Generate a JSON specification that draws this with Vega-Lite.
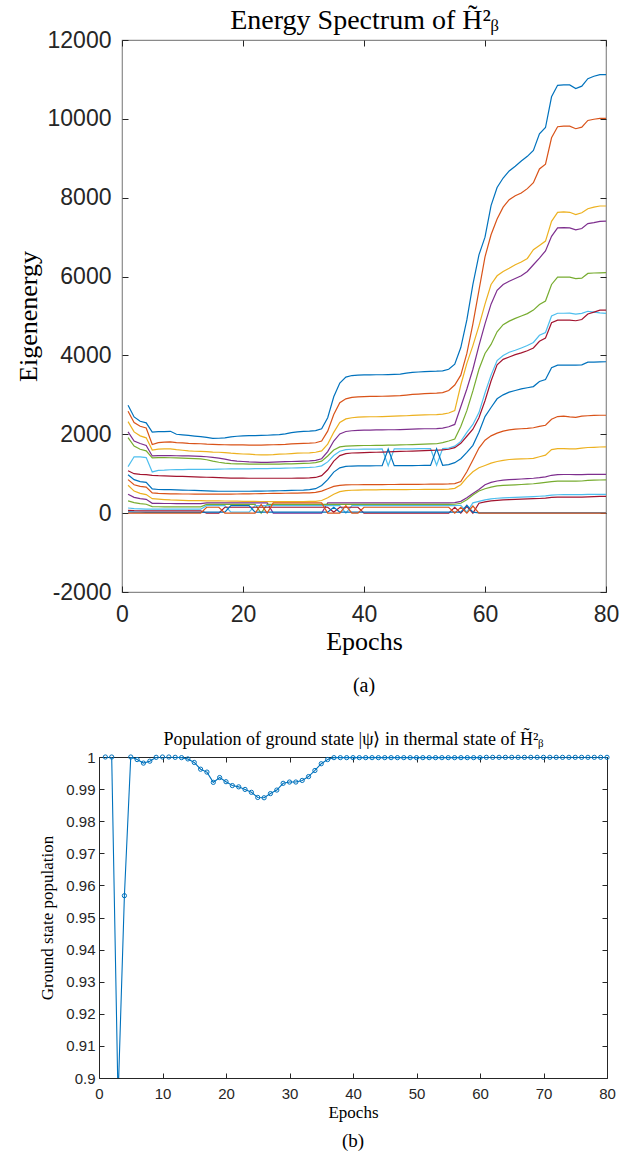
{
  "$schema": "https://vega.github.io/schema/vega-lite/v6.json",
  "background": "white",
  "padding": {"left": 13, "top": 5, "right": 0, "bottom": 0},
  "config": {
    "view": {"stroke": null},
    "title": {"font": "Liberation Serif", "fontWeight": "normal", "color": "#000000"},
    "axis": {
      "grid": false,
      "domain": false,
      "labelFont": "Liberation Sans",
      "labelColor": "#262626",
      "tickColor": "#262626",
      "tickWidth": 1,
      "titleFont": "Liberation Serif",
      "titleFontWeight": "normal",
      "titleColor": "#000000",
      "labelFlush": false,
      "labelOverlap": false
    }
  },
  "datasets": {
    "spectrum": [
      {"e":1,"s01":2737,"s02":2585,"s03":2320,"s04":2060,"s05":1915,"s06":1180,"s07":1075,"s08":975,"s09":850,"s10":707,"s11":480,"s12":310,"s13":130,"s14":70,"s15":30,"s16":0},
      {"e":2,"s01":2440,"s02":2300,"s03":2060,"s04":1830,"s05":1700,"s06":1430,"s07":1000,"s08":850,"s09":720,"s10":560,"s11":400,"s12":265,"s13":115,"s14":62,"s15":26,"s16":0},
      {"e":3,"s01":2330,"s02":2205,"s03":1960,"s04":1765,"s05":1620,"s06":1425,"s07":985,"s08":800,"s09":680,"s10":500,"s11":370,"s12":240,"s13":108,"s14":58,"s15":23,"s16":0},
      {"e":4,"s01":2290,"s02":2160,"s03":1910,"s04":1715,"s05":1580,"s06":1410,"s07":975,"s08":780,"s09":660,"s10":470,"s11":350,"s12":225,"s13":104,"s14":56,"s15":21,"s16":0},
      {"e":5,"s01":2055,"s02":1740,"s03":1600,"s04":1450,"s05":1400,"s06":1045,"s07":960,"s08":615,"s09":512,"s10":368,"s11":250,"s12":165,"s13":100,"s14":55,"s15":20,"s16":0},
      {"e":6,"s01":2065,"s02":1790,"s03":1625,"s04":1460,"s05":1410,"s06":1085,"s07":950,"s08":600,"s09":500,"s10":355,"s11":246,"s12":162,"s13":100,"s14":55,"s15":20,"s16":0},
      {"e":7,"s01":2070,"s02":1800,"s03":1630,"s04":1460,"s05":1410,"s06":1090,"s07":945,"s08":598,"s09":495,"s10":345,"s11":245,"s12":161,"s13":100,"s14":55,"s15":20,"s16":0},
      {"e":8,"s01":2075,"s02":1805,"s03":1630,"s04":1460,"s05":1405,"s06":1100,"s07":940,"s08":596,"s09":490,"s10":335,"s11":244,"s12":160,"s13":100,"s14":55,"s15":20,"s16":0},
      {"e":9,"s01":2000,"s02":1790,"s03":1610,"s04":1455,"s05":1400,"s06":1105,"s07":935,"s08":590,"s09":488,"s10":330,"s11":243,"s12":160,"s13":100,"s14":55,"s15":20,"s16":0},
      {"e":10,"s01":1985,"s02":1780,"s03":1595,"s04":1450,"s05":1395,"s06":1105,"s07":930,"s08":585,"s09":486,"s10":325,"s11":242,"s12":159,"s13":100,"s14":55,"s15":20,"s16":0},
      {"e":11,"s01":1970,"s02":1770,"s03":1580,"s04":1450,"s05":1390,"s06":1110,"s07":925,"s08":580,"s09":485,"s10":320,"s11":242,"s12":159,"s13":100,"s14":55,"s15":20,"s16":0},
      {"e":12,"s01":1955,"s02":1765,"s03":1570,"s04":1445,"s05":1385,"s06":1110,"s07":920,"s08":575,"s09":484,"s10":318,"s11":241,"s12":158,"s13":100,"s14":55,"s15":20,"s16":0},
      {"e":13,"s01":1940,"s02":1760,"s03":1565,"s04":1440,"s05":1375,"s06":1110,"s07":915,"s08":570,"s09":483,"s10":315,"s11":241,"s12":158,"s13":100,"s14":55,"s15":20,"s16":0},
      {"e":14,"s01":1920,"s02":1750,"s03":1560,"s04":1430,"s05":1355,"s06":1110,"s07":910,"s08":565,"s09":482,"s10":313,"s11":260,"s12":220,"s13":190,"s14":0,"s15":25,"s16":150},
      {"e":15,"s01":1895,"s02":1745,"s03":1550,"s04":1415,"s05":1320,"s06":1110,"s07":905,"s08":560,"s09":482,"s10":312,"s11":260,"s12":220,"s13":190,"s14":0,"s15":25,"s16":150},
      {"e":16,"s01":1900,"s02":1740,"s03":1545,"s04":1395,"s05":1290,"s06":1115,"s07":900,"s08":555,"s09":482,"s10":310,"s11":260,"s12":220,"s13":190,"s14":0,"s15":25,"s16":150},
      {"e":17,"s01":1910,"s02":1735,"s03":1535,"s04":1370,"s05":1270,"s06":1120,"s07":895,"s08":555,"s09":482,"s10":308,"s11":260,"s12":220,"s13":190,"s14":150,"s15":25,"s16":0},
      {"e":18,"s01":1935,"s02":1730,"s03":1520,"s04":1340,"s05":1255,"s06":1125,"s07":890,"s08":555,"s09":483,"s10":305,"s11":260,"s12":220,"s13":25,"s14":150,"s15":190,"s16":0},
      {"e":19,"s01":1950,"s02":1730,"s03":1510,"s04":1320,"s05":1250,"s06":1125,"s07":890,"s08":555,"s09":485,"s10":303,"s11":260,"s12":220,"s13":25,"s14":150,"s15":190,"s16":0},
      {"e":20,"s01":1960,"s02":1730,"s03":1500,"s04":1310,"s05":1250,"s06":1125,"s07":890,"s08":555,"s09":487,"s10":300,"s11":260,"s12":220,"s13":25,"s14":150,"s15":190,"s16":0},
      {"e":21,"s01":1965,"s02":1725,"s03":1495,"s04":1300,"s05":1245,"s06":1125,"s07":885,"s08":555,"s09":490,"s10":298,"s11":260,"s12":220,"s13":25,"s14":150,"s15":190,"s16":0},
      {"e":22,"s01":1965,"s02":1725,"s03":1485,"s04":1295,"s05":1245,"s06":1130,"s07":885,"s08":558,"s09":492,"s10":296,"s11":260,"s12":220,"s13":190,"s14":150,"s15":25,"s16":0},
      {"e":23,"s01":1970,"s02":1725,"s03":1480,"s04":1290,"s05":1245,"s06":1130,"s07":885,"s08":560,"s09":495,"s10":295,"s11":260,"s12":0,"s13":190,"s14":150,"s15":25,"s16":220},
      {"e":24,"s01":1975,"s02":1730,"s03":1480,"s04":1290,"s05":1245,"s06":1130,"s07":885,"s08":562,"s09":498,"s10":294,"s11":260,"s12":220,"s13":190,"s14":150,"s15":25,"s16":0},
      {"e":25,"s01":1985,"s02":1735,"s03":1485,"s04":1295,"s05":1245,"s06":1135,"s07":885,"s08":565,"s09":500,"s10":293,"s11":0,"s12":220,"s13":190,"s14":150,"s15":25,"s16":260},
      {"e":26,"s01":1990,"s02":1740,"s03":1495,"s04":1300,"s05":1245,"s06":1135,"s07":885,"s08":568,"s09":503,"s10":292,"s11":0,"s12":220,"s13":190,"s14":150,"s15":25,"s16":260},
      {"e":27,"s01":2010,"s02":1745,"s03":1500,"s04":1305,"s05":1250,"s06":1140,"s07":885,"s08":570,"s09":505,"s10":292,"s11":0,"s12":220,"s13":190,"s14":150,"s15":25,"s16":260},
      {"e":28,"s01":2040,"s02":1755,"s03":1510,"s04":1310,"s05":1250,"s06":1145,"s07":885,"s08":575,"s09":508,"s10":292,"s11":0,"s12":220,"s13":190,"s14":150,"s15":25,"s16":260},
      {"e":29,"s01":2060,"s02":1765,"s03":1520,"s04":1315,"s05":1255,"s06":1150,"s07":890,"s08":580,"s09":510,"s10":293,"s11":0,"s12":220,"s13":190,"s14":150,"s15":25,"s16":260},
      {"e":30,"s01":2075,"s02":1770,"s03":1525,"s04":1320,"s05":1260,"s06":1155,"s07":890,"s08":585,"s09":512,"s10":294,"s11":0,"s12":220,"s13":190,"s14":150,"s15":25,"s16":260},
      {"e":31,"s01":2080,"s02":1775,"s03":1530,"s04":1325,"s05":1265,"s06":1160,"s07":895,"s08":595,"s09":515,"s10":296,"s11":0,"s12":220,"s13":190,"s14":150,"s15":25,"s16":260},
      {"e":32,"s01":2095,"s02":1785,"s03":1545,"s04":1340,"s05":1280,"s06":1170,"s07":905,"s08":620,"s09":525,"s10":300,"s11":0,"s12":220,"s13":190,"s14":150,"s15":25,"s16":260},
      {"e":33,"s01":2140,"s02":1830,"s03":1580,"s04":1380,"s05":1320,"s06":1200,"s07":950,"s08":700,"s09":560,"s10":320,"s11":0,"s12":220,"s13":190,"s14":150,"s15":25,"s16":260},
      {"e":34,"s01":2420,"s02":2080,"s03":1750,"s04":1560,"s05":1450,"s06":1300,"s07":1100,"s08":850,"s09":620,"s10":390,"s11":260,"s12":220,"s13":190,"s14":150,"s15":25,"s16":0},
      {"e":35,"s01":2950,"s02":2500,"s03":2050,"s04":1830,"s05":1600,"s06":1460,"s07":1320,"s08":1040,"s09":680,"s10":480,"s11":260,"s12":220,"s13":190,"s14":25,"s15":150,"s16":0},
      {"e":36,"s01":3300,"s02":2800,"s03":2300,"s04":2010,"s05":1680,"s06":1570,"s07":1460,"s08":1150,"s09":705,"s10":545,"s11":260,"s12":220,"s13":190,"s14":150,"s15":25,"s16":0},
      {"e":37,"s01":3450,"s02":2900,"s03":2390,"s04":2070,"s05":1700,"s06":1610,"s07":1510,"s08":1185,"s09":715,"s10":570,"s11":260,"s12":220,"s13":0,"s14":150,"s15":25,"s16":190},
      {"e":38,"s01":3490,"s02":2935,"s03":2420,"s04":2090,"s05":1705,"s06":1620,"s07":1525,"s08":1195,"s09":720,"s10":580,"s11":260,"s12":220,"s13":190,"s14":150,"s15":25,"s16":0},
      {"e":39,"s01":3500,"s02":2950,"s03":2435,"s04":2100,"s05":1710,"s06":1620,"s07":1530,"s08":1198,"s09":720,"s10":585,"s11":260,"s12":220,"s13":190,"s14":150,"s15":25,"s16":0},
      {"e":40,"s01":3505,"s02":2955,"s03":2440,"s04":2105,"s05":1715,"s06":1625,"s07":1535,"s08":1200,"s09":722,"s10":588,"s11":260,"s12":220,"s13":190,"s14":0,"s15":25,"s16":150},
      {"e":41,"s01":3505,"s02":2960,"s03":2445,"s04":2105,"s05":1715,"s06":1625,"s07":1540,"s08":1200,"s09":722,"s10":590,"s11":260,"s12":220,"s13":190,"s14":0,"s15":25,"s16":150},
      {"e":42,"s01":3510,"s02":2960,"s03":2445,"s04":2110,"s05":1720,"s06":1625,"s07":1545,"s08":1202,"s09":725,"s10":592,"s11":260,"s12":220,"s13":190,"s14":0,"s15":25,"s16":150},
      {"e":43,"s01":3510,"s02":2965,"s03":2450,"s04":2110,"s05":1720,"s06":1630,"s07":1550,"s08":1203,"s09":725,"s10":594,"s11":260,"s12":220,"s13":190,"s14":0,"s15":25,"s16":150},
      {"e":44,"s01":3515,"s02":2970,"s03":2455,"s04":2115,"s05":1725,"s06":1205,"s07":1555,"s08":1625,"s09":727,"s10":595,"s11":260,"s12":220,"s13":190,"s14":0,"s15":25,"s16":150},
      {"e":45,"s01":3520,"s02":2975,"s03":2460,"s04":2115,"s05":1725,"s06":1630,"s07":1560,"s08":1205,"s09":727,"s10":596,"s11":260,"s12":220,"s13":190,"s14":0,"s15":25,"s16":150},
      {"e":46,"s01":3525,"s02":2980,"s03":2465,"s04":2120,"s05":1730,"s06":1630,"s07":1565,"s08":1205,"s09":728,"s10":597,"s11":260,"s12":220,"s13":190,"s14":0,"s15":25,"s16":150},
      {"e":47,"s01":3550,"s02":2995,"s03":2470,"s04":2125,"s05":1735,"s06":1630,"s07":1570,"s08":1205,"s09":730,"s10":598,"s11":260,"s12":220,"s13":190,"s14":0,"s15":25,"s16":150},
      {"e":48,"s01":3570,"s02":3010,"s03":2480,"s04":2130,"s05":1740,"s06":1632,"s07":1575,"s08":1207,"s09":730,"s10":599,"s11":260,"s12":220,"s13":190,"s14":0,"s15":25,"s16":150},
      {"e":49,"s01":3580,"s02":3020,"s03":2485,"s04":2135,"s05":1745,"s06":1635,"s07":1580,"s08":1208,"s09":732,"s10":600,"s11":260,"s12":220,"s13":190,"s14":0,"s15":25,"s16":150},
      {"e":50,"s01":3590,"s02":3030,"s03":2490,"s04":2140,"s05":1750,"s06":1635,"s07":1585,"s08":1210,"s09":733,"s10":601,"s11":260,"s12":220,"s13":190,"s14":0,"s15":25,"s16":150},
      {"e":51,"s01":3595,"s02":3040,"s03":2495,"s04":2140,"s05":1755,"s06":1635,"s07":1590,"s08":1210,"s09":734,"s10":602,"s11":260,"s12":220,"s13":190,"s14":0,"s15":25,"s16":150},
      {"e":52,"s01":3600,"s02":3045,"s03":2500,"s04":2145,"s05":1760,"s06":1215,"s07":1595,"s08":1635,"s09":735,"s10":603,"s11":260,"s12":220,"s13":190,"s14":0,"s15":25,"s16":150},
      {"e":53,"s01":3610,"s02":3055,"s03":2510,"s04":2155,"s05":1790,"s06":1640,"s07":1605,"s08":1215,"s09":737,"s10":605,"s11":260,"s12":220,"s13":190,"s14":0,"s15":25,"s16":150},
      {"e":54,"s01":3650,"s02":3110,"s03":2540,"s04":2190,"s05":1830,"s06":1650,"s07":1620,"s08":1230,"s09":740,"s10":610,"s11":262,"s12":222,"s13":190,"s14":0,"s15":25,"s16":150},
      {"e":55,"s01":3780,"s02":3250,"s03":2600,"s04":2250,"s05":1880,"s06":1700,"s07":1660,"s08":1280,"s09":750,"s10":630,"s11":265,"s12":225,"s13":190,"s14":150,"s15":25,"s16":0},
      {"e":56,"s01":4200,"s02":3500,"s03":3250,"s04":2700,"s05":2200,"s06":1820,"s07":1770,"s08":1380,"s09":800,"s10":720,"s11":300,"s12":250,"s13":200,"s14":0,"s15":25,"s16":150},
      {"e":57,"s01":4900,"s02":4050,"s03":3800,"s04":3150,"s05":2600,"s06":2050,"s07":1950,"s08":1540,"s09":1050,"s10":900,"s11":390,"s12":340,"s13":25,"s14":170,"s15":200,"s16":0},
      {"e":58,"s01":5800,"s02":4800,"s03":4250,"s04":3650,"s05":3100,"s06":2250,"s07":2130,"s08":1720,"s09":1350,"s10":1050,"s11":500,"s12":460,"s13":260,"s14":0,"s15":25,"s16":180},
      {"e":59,"s01":6550,"s02":5650,"s03":4750,"s04":4250,"s05":3650,"s06":2550,"s07":2420,"s08":2050,"s09":1650,"s10":1150,"s11":600,"s12":560,"s13":300,"s14":250,"s15":8,"s16":0},
      {"e":60,"s01":7000,"s02":6500,"s03":5300,"s04":4800,"s05":4050,"s06":3050,"s07":2850,"s08":2450,"s09":1850,"s10":1210,"s11":720,"s12":620,"s13":335,"s14":285,"s15":8,"s16":0},
      {"e":61,"s01":7800,"s02":7060,"s03":5800,"s04":5300,"s05":4280,"s06":3500,"s07":3350,"s08":2680,"s09":1960,"s10":1270,"s11":780,"s12":660,"s13":360,"s14":310,"s15":8,"s16":0},
      {"e":62,"s01":8260,"s02":7460,"s03":6020,"s04":5650,"s05":4600,"s06":3870,"s07":3760,"s08":2900,"s09":2030,"s10":1310,"s11":815,"s12":690,"s13":378,"s14":325,"s15":8,"s16":0},
      {"e":63,"s01":8500,"s02":7760,"s03":6130,"s04":5800,"s05":4780,"s06":4000,"s07":3900,"s08":3000,"s09":2080,"s10":1340,"s11":835,"s12":703,"s13":388,"s14":335,"s15":8,"s16":0},
      {"e":64,"s01":8680,"s02":7950,"s03":6210,"s04":5880,"s05":4870,"s06":4080,"s07":3960,"s08":3070,"s09":2110,"s10":1360,"s11":848,"s12":710,"s13":396,"s14":342,"s15":8,"s16":0},
      {"e":65,"s01":8800,"s02":8050,"s03":6300,"s04":5950,"s05":4940,"s06":4130,"s07":4020,"s08":3110,"s09":2130,"s10":1370,"s11":858,"s12":718,"s13":402,"s14":348,"s15":8,"s16":0},
      {"e":66,"s01":8930,"s02":8120,"s03":6370,"s04":6020,"s05":5000,"s06":4190,"s07":4064,"s08":3150,"s09":2140,"s10":1375,"s11":866,"s12":726,"s13":408,"s14":354,"s15":8,"s16":0},
      {"e":67,"s01":9050,"s02":8230,"s03":6460,"s04":6130,"s05":5060,"s06":4250,"s07":4120,"s08":3180,"s09":2150,"s10":1380,"s11":875,"s12":735,"s13":414,"s14":360,"s15":8,"s16":0},
      {"e":68,"s01":9200,"s02":8380,"s03":6680,"s04":6300,"s05":5150,"s06":4330,"s07":4190,"s08":3210,"s09":2165,"s10":1390,"s11":885,"s12":745,"s13":420,"s14":366,"s15":8,"s16":0},
      {"e":69,"s01":9620,"s02":8730,"s03":6790,"s04":6470,"s05":5290,"s06":4510,"s07":4360,"s08":3340,"s09":2200,"s10":1430,"s11":900,"s12":762,"s13":428,"s14":372,"s15":8,"s16":0},
      {"e":70,"s01":9780,"s02":8850,"s03":6900,"s04":6650,"s05":5380,"s06":4580,"s07":4440,"s08":3390,"s09":2230,"s10":1470,"s11":920,"s12":780,"s13":438,"s14":382,"s15":8,"s16":0},
      {"e":71,"s01":10560,"s02":9520,"s03":7400,"s04":7020,"s05":5800,"s06":5000,"s07":4830,"s08":3690,"s09":2380,"s10":1610,"s11":960,"s12":800,"s13":458,"s14":398,"s15":8,"s16":0},
      {"e":72,"s01":10850,"s02":9800,"s03":7630,"s04":7236,"s05":5985,"s06":5070,"s07":4893,"s08":3752,"s09":2450,"s10":1635,"s11":975,"s12":810,"s13":466,"s14":404,"s15":8,"s16":0},
      {"e":73,"s01":10860,"s02":9815,"s03":7640,"s04":7240,"s05":5985,"s06":5070,"s07":4893,"s08":3752,"s09":2460,"s10":1635,"s11":980,"s12":812,"s13":468,"s14":405,"s15":8,"s16":0},
      {"e":74,"s01":10860,"s02":9815,"s03":7630,"s04":7236,"s05":5985,"s06":5075,"s07":4893,"s08":3755,"s09":2440,"s10":1630,"s11":980,"s12":812,"s13":468,"s14":405,"s15":8,"s16":0},
      {"e":75,"s01":10770,"s02":9750,"s03":7570,"s04":7185,"s05":5950,"s06":5050,"s07":4880,"s08":3752,"s09":2430,"s10":1630,"s11":975,"s12":812,"s13":468,"s14":405,"s15":8,"s16":0},
      {"e":76,"s01":10830,"s02":9790,"s03":7620,"s04":7220,"s05":5960,"s06":5065,"s07":4910,"s08":3760,"s09":2460,"s10":1650,"s11":978,"s12":815,"s13":470,"s14":408,"s15":8,"s16":0},
      {"e":77,"s01":11020,"s02":9960,"s03":7720,"s04":7345,"s05":6080,"s06":5120,"s07":5050,"s08":3830,"s09":2470,"s10":1665,"s11":982,"s12":830,"s13":476,"s14":414,"s15":8,"s16":0},
      {"e":78,"s01":11080,"s02":9990,"s03":7760,"s04":7370,"s05":6090,"s06":5100,"s07":5100,"s08":3830,"s09":2480,"s10":1670,"s11":982,"s12":836,"s13":478,"s14":418,"s15":8,"s16":0},
      {"e":79,"s01":11120,"s02":10010,"s03":7790,"s04":7400,"s05":6095,"s06":5080,"s07":5148,"s08":3836,"s09":2483,"s10":1678,"s11":982,"s12":840,"s13":478,"s14":424,"s15":8,"s16":0},
      {"e":80,"s01":11120,"s02":10010,"s03":7790,"s04":7405,"s05":6100,"s06":5065,"s07":5148,"s08":3840,"s09":2483,"s10":1680,"s11":982,"s12":842,"s13":478,"s14":426,"s15":8,"s16":0}
    ],
    "population": [
      {"e":1,"p":1},{"e":2,"p":1},{"e":3,"p":0.8935},{"e":4,"p":0.9568},{"e":5,"p":1},
      {"e":6,"p":0.9992},{"e":7,"p":0.9981},{"e":8,"p":0.9987},{"e":9,"p":0.9999},{"e":10,"p":1},
      {"e":11,"p":1},{"e":12,"p":0.9999},{"e":13,"p":0.9998},{"e":14,"p":0.9994},{"e":15,"p":0.9983},
      {"e":16,"p":0.9962},{"e":17,"p":0.9953},{"e":18,"p":0.9921},{"e":19,"p":0.9936},{"e":20,"p":0.9923},
      {"e":21,"p":0.9911},{"e":22,"p":0.9907},{"e":23,"p":0.9899},{"e":24,"p":0.989},{"e":25,"p":0.9874},
      {"e":26,"p":0.9873},{"e":27,"p":0.9886},{"e":28,"p":0.9897},{"e":29,"p":0.9918},{"e":30,"p":0.9922},
      {"e":31,"p":0.9922},{"e":32,"p":0.9927},{"e":33,"p":0.9939},{"e":34,"p":0.9958},{"e":35,"p":0.9979},
      {"e":36,"p":0.9992},{"e":37,"p":0.9998},{"e":38,"p":0.9998},{"e":39,"p":0.9998},{"e":40,"p":0.9998},
      {"e":41,"p":0.9998},{"e":42,"p":0.9998},{"e":43,"p":0.9998},{"e":44,"p":0.9998},{"e":45,"p":0.9998},
      {"e":46,"p":0.9998},{"e":47,"p":0.9998},{"e":48,"p":0.9998},{"e":49,"p":0.9998},{"e":50,"p":0.9998},
      {"e":51,"p":0.9998},{"e":52,"p":0.9998},{"e":53,"p":0.9998},{"e":54,"p":0.9998},{"e":55,"p":0.9998},
      {"e":56,"p":0.9998},{"e":57,"p":0.9998},{"e":58,"p":0.9998},{"e":59,"p":0.9998},{"e":60,"p":0.9998},
      {"e":61,"p":0.9999},{"e":62,"p":0.9999},{"e":63,"p":0.9999},{"e":64,"p":0.9999},{"e":65,"p":0.9999},
      {"e":66,"p":0.9999},{"e":67,"p":0.9999},{"e":68,"p":0.9999},{"e":69,"p":0.9999},{"e":70,"p":0.9999},
      {"e":71,"p":0.9999},{"e":72,"p":0.9999},{"e":73,"p":0.9999},{"e":74,"p":0.9999},{"e":75,"p":0.9999},
      {"e":76,"p":0.9999},{"e":77,"p":0.9999},{"e":78,"p":0.9999},{"e":79,"p":0.9999},{"e":80,"p":0.9999}
    ]
  },
  "spacing": 33,
  "vconcat": [
    {
      "spacing": 0,
      "hconcat": [
        {
          "width": 1,
          "height": 10,
          "data": {"values": []},
          "mark": {"type": "point", "opacity": 0}
        },
        {
          "width": 484,
          "height": 552,
          "view": {"stroke": "#8a8a8a", "strokeWidth": 1.2},
          "title": {"text": "(a)", "orient": "bottom", "frame": "group", "anchor": "middle", "fontSize": 20, "offset": 22},
          "data": {"name": "spectrum"},
          "transform": [
            {"fold": ["s01","s02","s03","s04","s05","s06","s07","s08","s09","s10","s11","s12","s13","s14","s15","s16"], "as": ["level", "energy"]}
          ],
          "layer": [
            {
              "mark": {"type": "line", "strokeWidth": 1.2, "clip": true},
              "encoding": {
                "x": {
                  "field": "e", "type": "quantitative",
                  "scale": {"domain": [0, 80], "nice": false},
                  "axis": {"orient": "bottom", "values": [0, 20, 40, 60, 80], "tickSize": -6, "labelPadding": 17, "labelFontSize": 23, "title": "Epochs", "titleFontSize": 26, "titlePadding": 2}
                },
                "y": {
                  "field": "energy", "type": "quantitative",
                  "scale": {"domain": [-2000, 12000], "nice": false},
                  "axis": {"orient": "left", "values": [-2000, 0, 2000, 4000, 6000, 8000, 10000, 12000], "labelExpr": "'' + datum.value", "tickSize": -6, "labelPadding": 17, "labelFontSize": 23, "title": "Eigenenergy", "titleFontSize": 26, "titlePadding": 6}
                },
                "color": {
                  "field": "level", "type": "nominal", "legend": null,
                  "scale": {
                    "domain": ["s01","s02","s03","s04","s05","s06","s07","s08","s09","s10","s11","s12","s13","s14","s15","s16"],
                    "range": ["#0072BD","#D95319","#EDB120","#7E2F8E","#77AC30","#4DBEEE","#A2142F","#0072BD","#D95319","#EDB120","#7E2F8E","#77AC30","#4DBEEE","#A2142F","#0072BD","#D95319"]
                  }
                }
              }
            },
            {
              "mark": {"type": "line", "opacity": 0},
              "encoding": {
                "x": {
                  "field": "e", "type": "quantitative",
                  "axis": {"orient": "top", "values": [0, 20, 40, 60, 80], "tickSize": -6, "labels": false, "title": "Energy Spectrum of H\u0303\u00b2\u1d66", "titleFontSize": 28, "titlePadding": 5}
                },
                "y": {
                  "field": "energy", "type": "quantitative",
                  "axis": {"orient": "right", "values": [-2000, 0, 2000, 4000, 6000, 8000, 10000, 12000], "tickSize": -6, "labels": false, "title": null}
                },
                "detail": {"field": "level"}
              }
            }
          ],
          "resolve": {"axis": {"x": "independent", "y": "independent"}}
        }
      ]
    },
    {
      "spacing": 0,
      "hconcat": [
        {
          "width": 25,
          "height": 10,
          "data": {"values": []},
          "mark": {"type": "point", "opacity": 0}
        },
        {
          "width": 508,
          "height": 321,
          "view": {"stroke": "#262626", "strokeWidth": 1},
          "title": {"text": "(b)", "orient": "bottom", "frame": "group", "anchor": "middle", "fontSize": 19, "offset": 12},
          "data": {"name": "population"},
          "layer": [
            {
              "mark": {"type": "line", "color": "#0072BD", "strokeWidth": 1.1, "clip": true},
              "encoding": {
                "x": {
                  "field": "e", "type": "quantitative",
                  "scale": {"domain": [0, 80], "nice": false},
                  "axis": {"orient": "bottom", "values": [0, 10, 20, 30, 40, 50, 60, 70, 80], "tickSize": -5, "labelPadding": 13, "labelFontSize": 15, "title": "Epochs", "titleFontSize": 17, "titlePadding": 3}
                },
                "y": {
                  "field": "p", "type": "quantitative",
                  "scale": {"domain": [0.9, 1], "nice": false, "zero": false},
                  "axis": {"orient": "left", "values": [0.9, 0.91, 0.92, 0.93, 0.94, 0.95, 0.96, 0.97, 0.98, 0.99, 1], "format": "~g", "tickSize": -5, "labelPadding": 9, "labelFontSize": 15, "title": "Ground state population", "titleFontSize": 17, "titlePadding": 9}
                }
              }
            },
            {
              "transform": [{"filter": "datum.p >= 0.9"}],
              "mark": {"type": "point", "shape": "circle", "filled": false, "color": "#0072BD", "size": 18, "strokeWidth": 1, "opacity": 1},
              "encoding": {
                "x": {
                  "field": "e", "type": "quantitative",
                  "axis": {"orient": "top", "values": [0, 10, 20, 30, 40, 50, 60, 70, 80], "tickSize": -5, "labels": false, "title": "Population of ground state |\u03c8\u27e9 in thermal state of H\u0303\u00b2\u1d66", "titleFontSize": 18, "titlePadding": 8}
                },
                "y": {
                  "field": "p", "type": "quantitative",
                  "axis": {"orient": "right", "values": [0.9, 0.91, 0.92, 0.93, 0.94, 0.95, 0.96, 0.97, 0.98, 0.99, 1], "tickSize": -5, "labels": false, "title": null}
                }
              }
            }
          ],
          "resolve": {"axis": {"x": "independent", "y": "independent"}}
        }
      ]
    }
  ]
}
